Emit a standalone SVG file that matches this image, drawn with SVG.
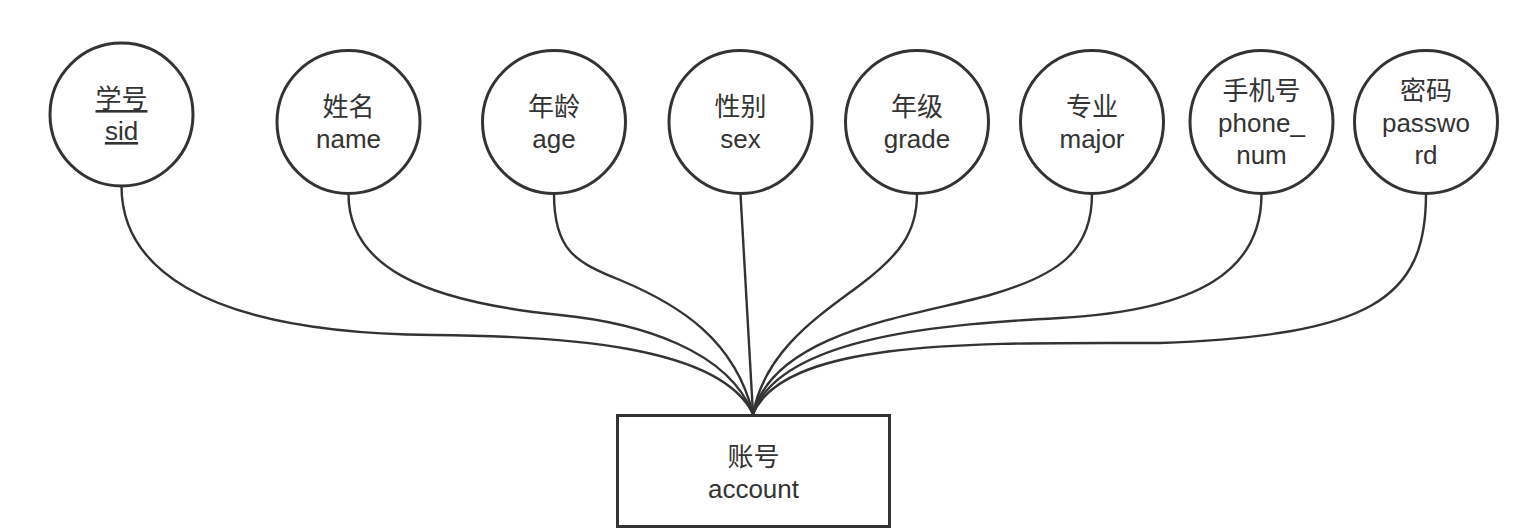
<svg xmlns="http://www.w3.org/2000/svg" width="1536" height="532" viewBox="0 0 1536 532">
<style>
.shape{fill:#fff;stroke:#333;stroke-width:3}
.edge{fill:none;stroke:#333;stroke-width:2.4}
text{font-family:'Liberation Sans','Noto Sans CJK SC',sans-serif;font-size:26px;fill:#333;text-anchor:middle}
.u{text-decoration:underline}
</style>
<rect width="1536" height="532" fill="#fff"/>
<g id="connectors">
<path class="edge" d="M121.5,186 C121.5,260 190,333 433,335 C560,336 720,345 753,414"/>
<path class="edge" d="M348.5,194 C348.5,265 420,301 560,315 C640,323 728,350 753,414"/>
<path class="edge" d="M554,194 C554,250 575,262 620,280 C680,305 735,340 753,414"/>
<path class="edge" d="M740.5,194 L753,414"/>
<path class="edge" d="M917,194 C917,232 900,255 860,285 C820,315 765,350 753,414"/>
<path class="edge" d="M1092,194 C1092,250 1060,275 990,295 C920,315 775,330 753,414"/>
<path class="edge" d="M1261.5,194 C1261.5,270 1200,310 1060,318 C950,324 780,335 753,414"/>
<path class="edge" d="M1426,194 C1426,300 1370,335 1160,343 C980,343 785,338 753,414"/>
</g>
<g id="sid">
<circle class="shape" cx="121.5" cy="114.5" r="71.5"/>
<text x="121.5" y="108" class="u">学号</text>
<text x="121.5" y="140" class="u">sid</text>
</g>
<g id="name">
<circle class="shape" cx="348.5" cy="122" r="71.5"/>
<text x="348.5" y="116">姓名</text>
<text x="348.5" y="148">name</text>
</g>
<g id="age">
<circle class="shape" cx="554" cy="122" r="71.5"/>
<text x="554" y="116">年龄</text>
<text x="554" y="148">age</text>
</g>
<g id="sex">
<circle class="shape" cx="740.5" cy="122" r="71.5"/>
<text x="740.5" y="116">性别</text>
<text x="740.5" y="148">sex</text>
</g>
<g id="grade">
<circle class="shape" cx="917" cy="122" r="71.5"/>
<text x="917" y="116">年级</text>
<text x="917" y="148">grade</text>
</g>
<g id="major">
<circle class="shape" cx="1092" cy="122" r="71.5"/>
<text x="1092" y="116">专业</text>
<text x="1092" y="148">major</text>
</g>
<g id="phone_num">
<circle class="shape" cx="1261.5" cy="122" r="71.5"/>
<text x="1261.5" y="100">手机号</text>
<text x="1261.5" y="132">phone_</text>
<text x="1261.5" y="164">num</text>
</g>
<g id="password">
<circle class="shape" cx="1426" cy="122" r="71.5"/>
<text x="1426" y="100">密码</text>
<text x="1426" y="132">passwo</text>
<text x="1426" y="164">rd</text>
</g>
<g id="account">
<rect class="shape" x="617.5" y="415.5" width="272" height="111" stroke-width="3.5"/>
<text x="753.5" y="466">账号</text>
<text x="753.5" y="498">account</text>
</g>
</svg>
